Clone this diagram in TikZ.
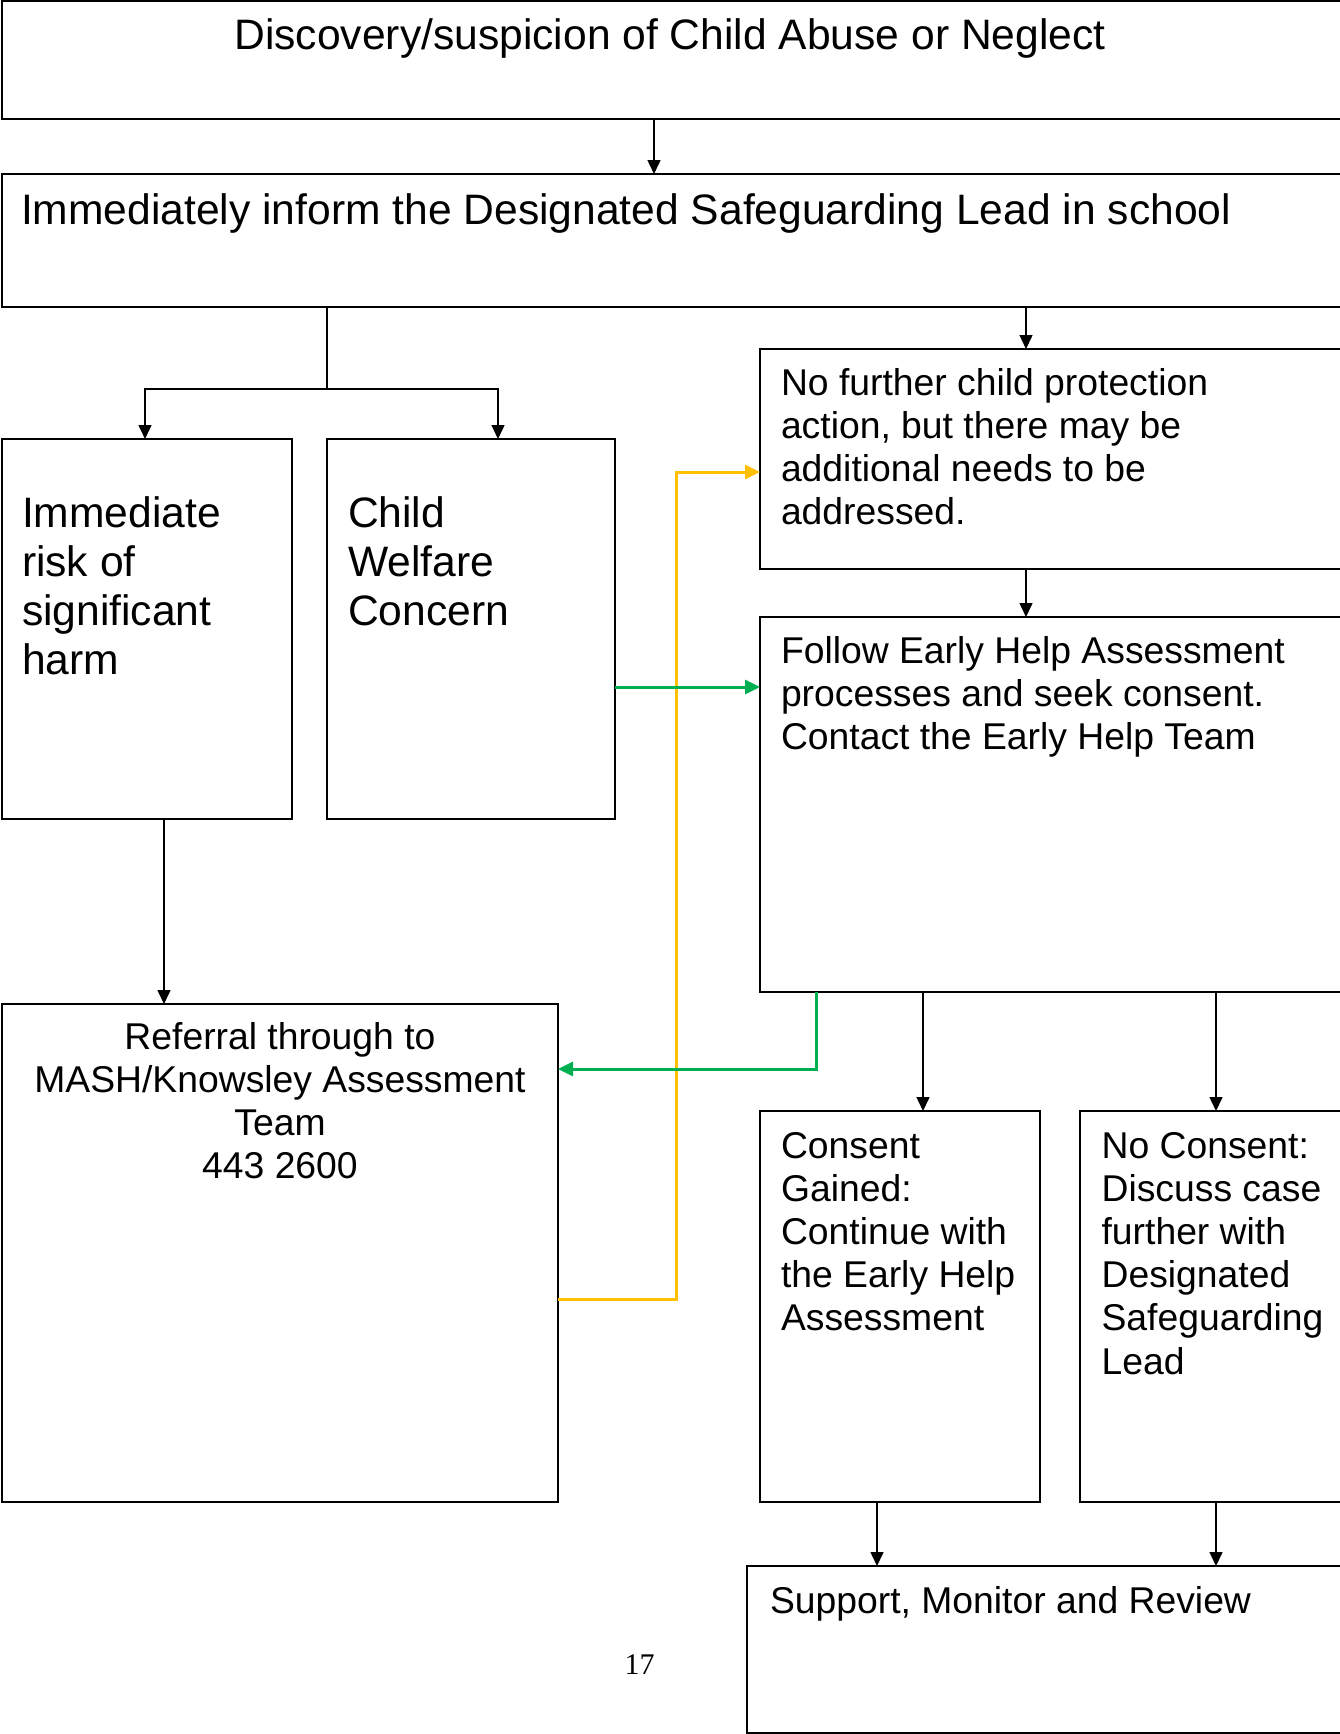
\documentclass[tikz,border=0pt]{standalone}
\usepackage{fontspec}
\setmainfont{Liberation Sans}
\newfontfamily\pgnumfont{Liberation Serif}
\usetikzlibrary{arrows.meta}
\definecolor{ylw}{RGB}{255,192,0}
\definecolor{grn}{RGB}{0,176,80}
\newcommand\hdfont{\fontsize{21.3pt}{24.5pt}\selectfont}
\newcommand\bdfont{\fontsize{18.65pt}{21.6pt}\selectfont}
\begin{document}
\begin{tikzpicture}[x=0.5pt,y=-0.5pt,
  box/.style={draw, line width=1pt, inner sep=0pt, outer sep=0pt, anchor=north west},
  lbl/.style={inner sep=0pt, outer sep=0pt, anchor=base west},
  conn/.style={line width=0.75pt},
  arr/.style={conn, -{Triangle[length=7pt,width=6.5pt]}},
  garr/.style={grn, line width=1.5pt, -{Triangle[length=7.5pt,width=7pt]}},
  yarr/.style={ylw, line width=1.5pt, -{Triangle[length=7.5pt,width=7pt]}}]
\useasboundingbox (0,0) rectangle (1339,1734);
\fill[white] (0,0) rectangle (1339,1734);
% boxes
\node[box, minimum width=671.75pt, minimum height=58.75pt] (top) at (1.5,1.5) {};
\node[box, minimum width=671.75pt, minimum height=66.5pt] (inform) at (1.5,174) {};
\node[box, minimum width=145.25pt, minimum height=190pt] (risk) at (1.5,439) {};
\node[box, minimum width=144pt, minimum height=190pt] (welfare) at (327,439) {};
\node[box, minimum width=292.5pt, minimum height=110pt] (nofurther) at (760,349) {};
\node[box, minimum width=292.5pt, minimum height=187.5pt] (follow) at (760,617) {};
\node[box, minimum width=278.25pt, minimum height=249pt] (referral) at (1.5,1004) {};
\node[box, minimum width=140pt, minimum height=195.5pt] (gained) at (760,1111) {};
\node[box, minimum width=132.5pt, minimum height=195.5pt] (nocons) at (1080,1111) {};
\node[box, minimum width=299pt, minimum height=83.5pt] (support) at (747,1566) {};
% texts
\node[lbl, anchor=base] (t1) at (670,50) {\hdfont Discovery/suspicion of Child Abuse or Neglect};
\node[lbl] (t2) at (21,224) {\hdfont Immediately inform the Designated Safeguarding Lead in school};
\node[lbl] (t3) at (22,527) {\parbox[t]{130pt}{\raggedright\hdfont Immediate\\risk of\\significant\\harm}};
\node[lbl] (t4) at (348,527) {\parbox[t]{130pt}{\raggedright\hdfont Child\\Welfare\\Concern}};
\node[lbl] (t5) at (781,395) {\parbox[t]{270pt}{\raggedright\bdfont No further child protection\\action, but there may be\\additional needs to be\\addressed.}};
\node[lbl] (t6) at (781,663) {\parbox[t]{270pt}{\raggedright\bdfont Follow Early Help Assessment\\processes and seek consent.\\Contact the Early Help Team}};
\node[lbl, anchor=base] (t7) at (280,1049) {\parbox[t]{270pt}{\centering\bdfont Referral through to\\MASH/Knowsley Assessment\\Team\\443 2600}};
\node[lbl] (t8) at (781,1158) {\parbox[t]{130pt}{\raggedright\bdfont Consent\\Gained:\\Continue with\\the Early Help\\Assessment}};
\node[lbl] (t9) at (1101.6,1158) {\parbox[t]{130pt}{\raggedright\bdfont No Consent:\\Discuss case\\further with\\Designated\\Safeguarding\\Lead}};
\node[lbl] (t10) at (770,1613) {\bdfont Support, Monitor and Review};
\node[lbl, anchor=base] (pg) at (639.5,1674) {\pgnumfont\fontsize{15pt}{18pt}\selectfont 17};
% helper coordinates
\coordinate (xa) at (654,0);
\coordinate (xb) at (327,0);
\coordinate (ysplit) at (0,389);
\coordinate (xl) at (145,0);
\coordinate (xr) at (498,0);
\coordinate (xc) at (1026,0);
\coordinate (xd) at (164,0);
\coordinate (yg) at (0,687);
\coordinate (yy1) at (0,1299);
\coordinate (yy2) at (0,472);
\coordinate (xy) at (676,0);
\coordinate (xg) at (816,0);
\coordinate (yg2) at (0,1069);
\coordinate (xe) at (923,0);
\coordinate (xf) at (1216,0);
\coordinate (xh) at (877,0);
% connectors
\draw[arr] (top.south -| xa) -- (inform.north -| xa);
\draw[conn] (inform.south -| xb) -- (xb |- ysplit);
\draw[arr] (xb |- ysplit) -| (risk.north -| xl);
\draw[arr] (xb |- ysplit) -| (welfare.north -| xr);
\draw[arr] (inform.south -| xc) -- (nofurther.north -| xc);
\draw[arr] (nofurther.south -| xc) -- (follow.north -| xc);
\draw[arr] (risk.south -| xd) -- (referral.north -| xd);
\draw[yarr] (referral.east |- yy1) -| (xy |- yy2) -- (nofurther.west |- yy2);
\draw[garr] (welfare.east |- yg) -- (follow.west |- yg);
\draw[garr] (follow.south -| xg) |- (referral.east |- yg2);
\draw[arr] (follow.south -| xe) -- (gained.north -| xe);
\draw[arr] (follow.south -| xf) -- (nocons.north -| xf);
\draw[arr] (gained.south -| xh) -- (support.north -| xh);
\draw[arr] (nocons.south -| xf) -- (support.north -| xf);
\end{tikzpicture}
\end{document}
